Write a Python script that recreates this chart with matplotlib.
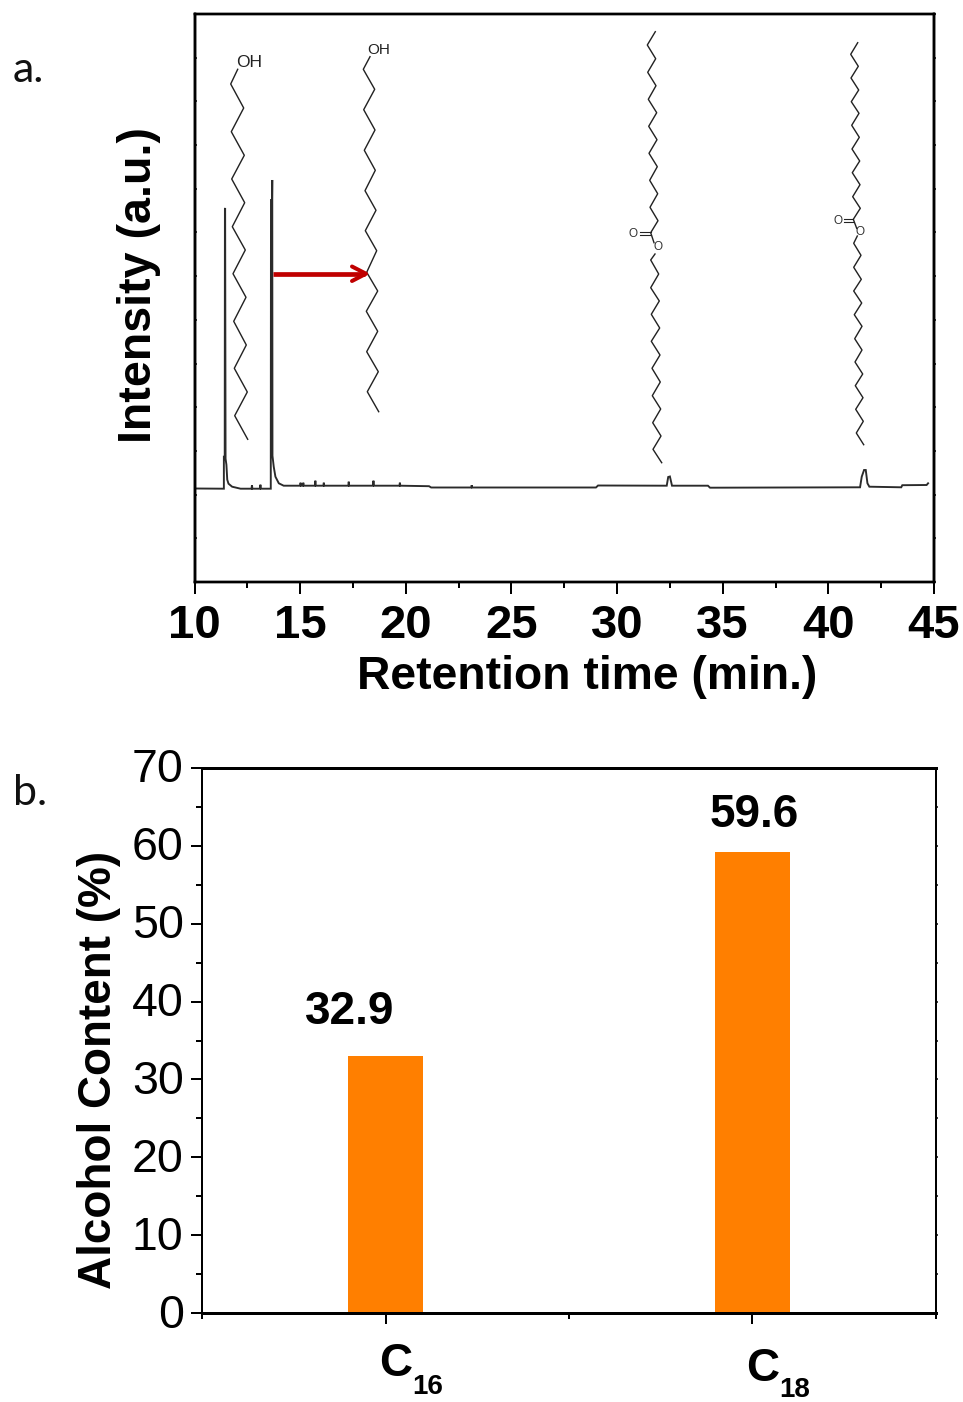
import matplotlib
matplotlib.use("Agg")
import matplotlib.pyplot as plt
import numpy as np
from matplotlib.ticker import MultipleLocator
from matplotlib.transforms import ScaledTranslation

W, H = 963, 1402
PX = 0.72  # one pixel in points at dpi 100

plt.rcParams['font.family'] = ['Liberation Sans', 'DejaVu Sans']

# chromatogram, panel a
retention_time = [10.00, 11.39, 11.39, 11.43, 11.44, 11.45, 11.47,
                  11.51, 11.55, 11.61, 11.78, 12.18, 12.70, 12.72, 12.74, 13.10, 13.12, 13.14,
                  13.61, 13.62, 13.67, 13.68, 13.69, 13.75, 13.83, 13.99, 14.22, 15.00, 15.02,
                  15.04, 15.13, 15.15, 15.17, 15.70, 15.72, 15.74, 16.10, 16.12, 16.14, 17.28,
                  17.30, 17.32, 18.45, 18.47, 18.49, 19.70, 19.72, 19.74, 21.10, 21.20, 23.10,
                  23.12, 23.14, 29.00, 29.10, 32.35, 32.42, 32.50, 32.60, 34.30, 34.40, 41.50,
                  41.58, 41.69, 41.77, 41.85, 41.94, 43.45, 43.50, 44.65, 44.72]
intensity = [0.2, 0.0, 32.0, 32.0, 280.0, 280.7, 30.0,
             24.0, 9.0, 5.0, 2.0, 0.0, 0.0, 3.5, 0.0, 0.0, 4.0, 0.0,
             0.0, 288.7, 288.7, 308.7, 33.0, 22.0, 12.0, 5.4, 3.0, 3.0, 6.0,
             3.0, 3.0, 6.0, 3.0, 3.0, 8.0, 3.0, 3.0, 6.0, 3.0, 3.0,
             7.0, 3.0, 3.0, 8.0, 3.0, 3.0, 6.0, 3.0, 2.5, 1.2, 1.2,
             3.5, 1.2, 1.2, 3.2, 3.0, 11.7, 12.2, 3.0, 3.0, 1.0, 1.4,
             12.0, 18.7, 18.7, 5.4, 2.0, 1.4, 3.5, 3.7, 5.4]

# alcohol content, panel b
carbons = ['C', 'C']
carbon_counts = ['16', '18']
bar_positions = [1, 2]
bar_heights = [33.0, 59.2]
bar_labels = ['32.9', '59.6']

# structures drawn over panel a, in figure pixels
c16_alcohol = [(237.7, 69.3), (230.7, 84), (243.7, 108), (231.3, 131.7), (244.3, 155.3), (231.7, 179),
               (244.7, 202.7), (232.3, 226.7), (245.3, 250), (233, 273.7), (246, 297.3), (233.7, 321.3),
               (246.3, 345), (234.3, 368.3), (247.3, 392), (234.7, 415.7), (247.7, 439.3)]
c18_alcohol = [(370, 56.7), (363.3, 69.3), (374.7, 89.3), (363.7, 109.7), (375, 130), (364.3, 150.3),
               (375.3, 170.3), (365, 190.7), (376, 210.3), (365.3, 230.7), (376.7, 250.7), (366.7, 272.3),
               (377.7, 291), (366.3, 311.3), (377.7, 331.3), (366.7, 351.7), (378.3, 371.7), (367.3, 391.7),
               (378.7, 411.7)]
ester1_acid = [(655.3, 31.7), (647.3, 45), (655.7, 58.7), (647.7, 72.3), (656, 85.7), (648.3, 99.3),
               (656.7, 112.7), (648.7, 126.3), (657, 139.7), (649, 153.3), (657.3, 166.7), (649.7, 180.3),
               (657.7, 193.7), (650, 207.3), (658, 220.7), (650.7, 232.7), (654, 242.7)]
ester1_alcohol = [(655, 254), (650.7, 260), (658.7, 274), (650.7, 287.7), (659.3, 301), (651.3, 314.3),
                  (659.7, 328), (651.3, 341.3), (660, 355), (652, 368.3), (660.3, 382), (652.3, 395.7),
                  (660.7, 409), (652.7, 422.7), (661, 436), (653, 449.3), (661.7, 462.7)]
ester2_acid = [(857.7, 42.7), (850.7, 54.3), (858.3, 66.3), (851, 78), (858.7, 90), (851.3, 101.7),
               (859, 113.3), (851.7, 125.3), (859.3, 137.3), (852, 149), (859.7, 161), (852.3, 172.7),
               (860, 184.7), (852.7, 196.7), (860.3, 208.3), (853.3, 219.3), (856.7, 228.3)]
ester2_alcohol = [(857.3, 236), (853.7, 243.3), (861, 255.3), (853.7, 267.3), (861.3, 279.3), (853.7, 291),
                  (861.7, 303), (854.3, 314.7), (862, 326.3), (854.7, 338.7), (862, 350), (855, 362),
                  (862.7, 374), (855.3, 385.7), (863, 397.7), (855.7, 409.3), (863.3, 421.3), (856.3, 433),
                  (863.7, 444.7)]
carbonyls = [[(650.7, 232), (640, 232)], [(650.7, 234.5), (640, 234.5)],
             [(853.3, 219), (844, 219)], [(853.3, 221.5), (844, 221.5)]]


def axes_px(left, top, right, bottom):
    return fig.add_axes([left / W, 1 - bottom / H, (right - left) / W, (bottom - top) / H])


def style_spines(ax, side=2.2, flat=2.2):
    for s in ['left', 'right']:
        ax.spines[s].set_linewidth(side * PX)
    for s in ['top', 'bottom']:
        ax.spines[s].set_linewidth(flat * PX)


def nudge(label, dx, dy):
    label.set_transform(label.get_transform() + ScaledTranslation(dx / 100, dy / 100, fig.dpi_scale_trans))


fig = plt.figure(figsize=(W / 100, H / 100), dpi=100)

# panel a
ax1 = axes_px(194.5, 14, 934, 582)
ax1.plot(retention_time, intensity, color='#2b2b2b', lw=1.9 * PX, solid_joinstyle='miter')
ax1.set_xlim(10, 45)
ax1.set_ylim(-93.3, 474.7)
ax1.xaxis.set_major_locator(MultipleLocator(5))
ax1.xaxis.set_minor_locator(MultipleLocator(2.5))
ax1.set_yticks(np.linspace(-93.3, 474.7, 14))
ax1.tick_params(axis='x', which='major', length=12 * PX, width=2 * PX, labelsize=34, pad=7)
ax1.tick_params(axis='x', which='minor', length=6 * PX, width=2 * PX)
ax1.tick_params(axis='y', direction='in', length=2.5 * PX, width=1.5 * PX, labelleft=False)
for t in ax1.get_xticklabels():
    t.set_fontweight('bold')
ax1.set_xlabel('Retention time (min.)', fontsize=33.3, fontweight='bold', va='center')
ax1.xaxis.set_label_coords(0.531, -0.167)
ax1.set_ylabel('Intensity (a.u.)', fontsize=33.6, fontweight='bold', va='center')
ax1.yaxis.set_label_coords(-0.0755, 0.523)
style_spines(ax1, 2.5, 2.4)

r1 = ax1.twinx()
r1.set_ylim(ax1.get_ylim())
r1.set_yticks(ax1.get_yticks())
r1.tick_params(axis='y', direction='out', length=2.5 * PX, width=1.5 * PX, labelright=False)
style_spines(r1, 2.5, 2.4)

# panel b
ax2 = axes_px(202.3, 768, 935.7, 1313)
ax2.bar(bar_positions, bar_heights, width=0.204, color='#FF7F00', zorder=1)
ax2.set_xlim(0.5, 2.5)
ax2.set_ylim(0, 70)
ax2.set_xticks(bar_positions)
ax2.set_xticklabels(carbons, fontsize=33, fontweight='bold')
ax2.xaxis.set_minor_locator(MultipleLocator(0.5))
ax2.yaxis.set_major_locator(MultipleLocator(10))
ax2.yaxis.set_minor_locator(MultipleLocator(5))
ax2.tick_params(axis='both', which='major', length=11 * PX, width=2 * PX)
ax2.tick_params(axis='y', which='major', labelsize=33.5, pad=5.5)
ax2.tick_params(axis='x', which='major', labelsize=33, pad=14)
ax2.tick_params(axis='both', which='minor', length=6 * PX, width=2 * PX)
ax2.set_ylabel('Alcohol Content (%)', fontsize=33, fontweight='bold', va='center')
ax2.yaxis.set_label_coords(-0.1405, 0.446)
style_spines(ax2, 2, 3)

for lab, dx, dy in zip(ax2.get_xticklabels(), [9.5, 10.7], [1, -4]):
    nudge(lab, dx, dy)
for lab in ax2.get_yticklabels():
    nudge(lab, 0, 2.5)

for pos, count, dx, dy in zip(bar_positions, carbon_counts, [42.4, 42.7], [74, 77]):
    ax2.annotate(count, (pos, 0), xycoords=('data', 'axes fraction'), xytext=(dx * PX, -dy * PX),
                 textcoords='offset points', ha='center', va='center', fontsize=20, fontweight='bold',
                 annotation_clip=False)

ax2.annotate(bar_labels[0], (bar_positions[0], bar_heights[0]), xytext=(-36 * PX, 44 * PX),
             textcoords='offset points', ha='center', va='center', fontsize=33, fontweight='bold')
ax2.annotate(bar_labels[1], (bar_positions[1], bar_heights[1]), xytext=(1.5 * PX, 37 * PX),
             textcoords='offset points', ha='center', va='center', fontsize=33, fontweight='bold')

r2 = ax2.twinx()
r2.set_ylim(0, 70)
r2.yaxis.set_major_locator(MultipleLocator(5))
r2.tick_params(axis='y', direction='out', length=2.5 * PX, width=1.5 * PX, labelright=False)
style_spines(r2, 2, 3)

# structures, arrow and panel letters on a pixel overlay
over = fig.add_axes([0, 0, 1, 1], facecolor='none')
over.set_xlim(0, W)
over.set_ylim(H, 0)
over.axis('off')

for chain in [c16_alcohol, c18_alcohol, ester1_acid, ester1_alcohol, ester2_acid, ester2_alcohol]:
    xs, ys = zip(*chain)
    over.plot(xs, ys, color='#222222', lw=1.4 * PX)
for bond in carbonyls:
    xs, ys = zip(*bond)
    over.plot(xs, ys, color='#222222', lw=1.1 * PX)

over.text(248.7, 62.5, 'OH', fontsize=12.5, ha='center', va='center', color='#222222')
over.text(378.7, 49.7, 'OH', fontsize=11, ha='center', va='center', color='#222222')
for ox, oy in [(633, 234), (657.7, 247.3), (837.7, 220.7), (859.7, 231.7)]:
    over.text(ox, oy, 'O', fontsize=8.5, ha='center', va='center', color='#333333')

over.plot([273, 365], [273.7, 273.7], color='#C00000', lw=4.7 * PX, solid_capstyle='butt')
over.plot([352, 366, 352], [266.5, 273.7, 281], color='#C00000', lw=4 * PX, solid_capstyle='round')

over.text(13, 70, 'a.', fontsize=31, family='Lato', ha='left', va='center', color='#111111')
over.text(13, 793, 'b.', fontsize=31, family='Lato', ha='left', va='center', color='#111111')

fig.savefig('out.png', dpi=100)
